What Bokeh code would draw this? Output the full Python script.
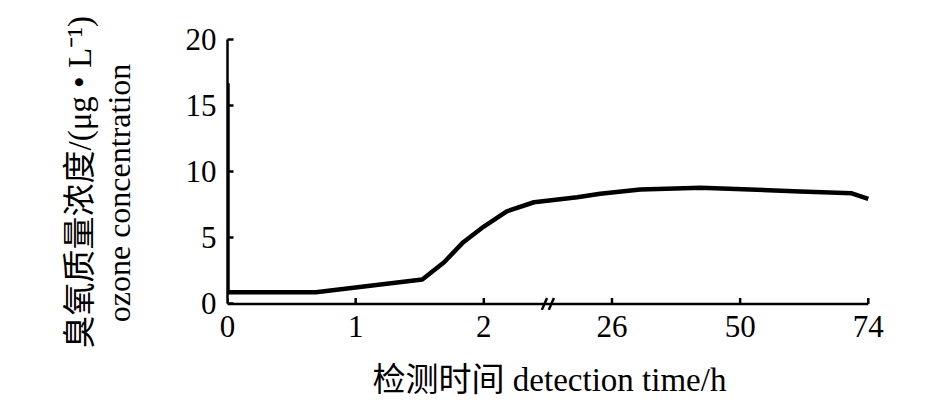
from bokeh.plotting import figure
from bokeh.models import Range1d, FixedTicker, Arrow, Title
from bokeh.embed import file_html
from bokeh.resources import INLINE

# ---- data ----
time_h = [0, 0, 0.69, 1.52, 1.69, 1.84, 2.0, 6.3, 11.4, 19.5, 23.8, 31.3, 42.6, 51.9, 61.3, 70.9, 74]
ozone = [16.7, 0.88, 0.88, 1.85, 3.15, 4.67, 5.85, 7.0, 7.69, 8.07, 8.33, 8.65, 8.78, 8.65, 8.5, 8.37, 7.95]
tick_hours = [0, 1, 2, 26, 50, 74]
y_ticks = [0, 5, 10, 15, 20]
break_from, break_to = 2, 26
ylabel_cn = "臭氧质量浓度/(μg • L⁻¹)"
ylabel_en = "ozone concentration"
xlabel = "检测时间 detection time/h"

HOURS_PER_STEP = 24


def axis_pos(t):
    """Map hours onto the broken axis (one tick step per unit)."""
    if t <= break_from:
        return t
    if t < break_to:
        return break_from + (t - break_from) / (break_to - break_from)
    return tick_hours.index(break_to) + (t - break_to) / HOURS_PER_STEP


xs = [axis_pos(t) for t in time_h]
x_ticks = [axis_pos(t) for t in tick_hours]
x_end = x_ticks[-1]
break_x = (axis_pos(break_from) + axis_pos(break_to)) / 2

FONT = "Liberation Serif, Noto Sans CJK SC"
Y_PAD = 0.8     # room below zero so the axis-break mark is not clipped
X_PAD = 0.025   # room right of the last tick
FRAME_H = 275
TICK_LEN = 6 * (y_ticks[-1] - y_ticks[0] + Y_PAD) / FRAME_H  # 6px in data units

p = figure(width=929, height=401, output_backend="svg", toolbar_location=None,
           x_range=Range1d(0, x_end + X_PAD), y_range=Range1d(y_ticks[0] - Y_PAD, y_ticks[-1]),
           min_border_left=227, min_border_right=58, min_border_top=39, min_border_bottom=87)
p.outline_line_color = None
p.grid.grid_line_color = None
p.background_fill_color = "white"
p.border_fill_color = "white"

# zero line (x axis rule) and its inward ticks
p.segment(x0=[0], y0=[y_ticks[0]], x1=[x_end], y1=[y_ticks[0]], line_width=2.5, line_color="black")
p.segment(x0=x_ticks, y0=[y_ticks[0]] * len(x_ticks), x1=x_ticks,
          y1=[y_ticks[0] + TICK_LEN] * len(x_ticks), line_width=2.5, line_color="black")

p.line(xs, ozone, line_width=4.5, line_color="black", line_join="round")

p.xaxis.ticker = FixedTicker(ticks=x_ticks)
p.xaxis.major_label_overrides = {int(round(x)): str(t) for x, t in zip(x_ticks, tick_hours)}
p.yaxis.ticker = FixedTicker(ticks=y_ticks)
p.yaxis.bounds = (y_ticks[0], y_ticks[-1])

for ax in (p.xaxis[0], p.yaxis[0]):
    ax.axis_line_width = 2.5
    ax.axis_line_color = "black"
    ax.major_tick_line_width = 2.5
    ax.major_tick_line_color = "black"
    ax.major_tick_in = 6
    ax.major_tick_out = 0
    ax.minor_tick_line_color = None
    ax.major_label_text_font = "Liberation Serif"
    ax.major_label_text_font_size = "31px"
    ax.major_label_text_color = "black"
    ax.axis_label_text_font = FONT
    ax.axis_label_text_font_size = "32px"
    ax.axis_label_text_font_style = "normal"
    ax.axis_label_text_color = "black"

# x axis: only labels (rule and ticks are drawn at zero above)
p.xaxis.axis_line_color = None
p.xaxis.major_tick_line_color = None
p.xaxis.major_label_standoff = 1
p.xaxis.axis_label = xlabel
p.xaxis.axis_label_text_font_size = "33px"
p.xaxis.axis_label_standoff = 22

p.yaxis.major_label_standoff = 11
# inner y title line (English) as the axis label
p.yaxis.axis_label = ylabel_en + "    "
p.yaxis.axis_label_standoff = 46

# outer y title line (Chinese)
p.add_layout(Title(text=ylabel_cn, align="left", offset=-34, vertical_align="bottom",
                   standoff=0, text_font=FONT, text_font_size="33px",
                   text_font_style="normal", text_color="black"), "left")

# axis break mark "//"
for dx in (-0.027, 0.027):
    p.add_layout(Arrow(end=None, x_start=break_x + dx - 0.02, y_start=-0.45,
                       x_end=break_x + dx + 0.02, y_end=0.45,
                       line_width=2.5, line_color="black"))

open("out.html", "w").write(file_html(p, INLINE))
